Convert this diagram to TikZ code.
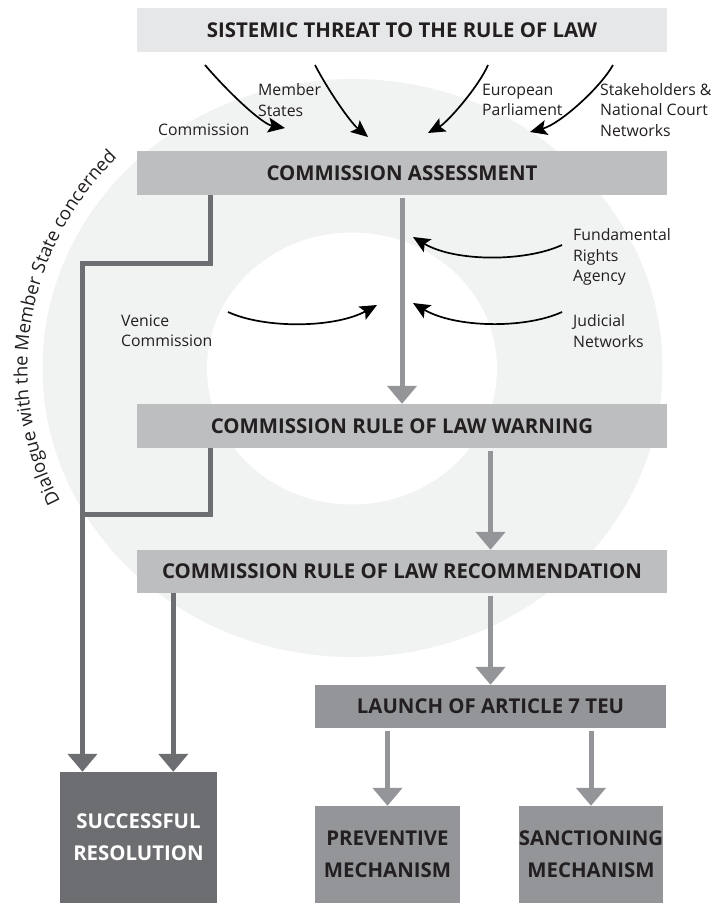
\documentclass[tikz,border=0pt]{standalone}
\usepackage{fontspec}
\setmainfont{Open Sans}
\usepackage{tikz}
\usetikzlibrary{arrows.meta, calc, decorations.text}

\definecolor{ringgray}{HTML}{F1F2F2}
\definecolor{palegray}{HTML}{E6E7E8}
\definecolor{stagegray}{HTML}{BCBEC0}
\definecolor{midgray}{HTML}{939598}
\definecolor{deepgray}{HTML}{6D6E71}
\definecolor{inkgray}{HTML}{231F20}

\tikzset{
  every picture/.style={x=1pt, y=-1pt},
  box/.style={rectangle, inner sep=0pt, text=inkgray, align=center,
    font=\fontsize{20.4}{32}\selectfont\bfseries},
  stage/.style={box, fill=stagegray, minimum width=530pt, minimum height=44pt},
  actorname/.style={inner sep=0pt, anchor=west, align=left, text=inkgray,
    font=\fontsize{15.8}{20.5}\selectfont},
  actor/.style={-{Stealth[length=17pt, width=15pt, inset=3.5pt]}, line width=1.7pt, black},
  flow/.style={-{Triangle[length=18pt, width=29pt]}, line width=5pt, midgray, shorten <=2.5pt},
  dialog/.style={line width=5pt, deepgray},
}

\begin{document}
\begin{tikzpicture}
        \fill[white] (0,0) rectangle (711,903);
        \useasboundingbox (0,0) rectangle (711,903);

        % background rings
        \fill[ringgray] (352.5,368) ellipse [x radius=310, y radius=289];
        \fill[white] (352,368.5) ellipse [x radius=145, y radius=136];

        \path[decorate, decoration={text along path, text align=left, text color=inkgray,
            text={|\fontsize{18.5}{20}\selectfont|Dialogue with the Member State concerned}}]
          (352.5,368) ++(154:325 and 305) arc [start angle=154, end angle=232, x radius=325, y radius=305];

        % stages
        \node[stage, fill=palegray] (threat) at (402, 30) {SISTEMIC THREAT TO THE RULE OF LAW};
        \node[stage] (assess) at (402, 173) {COMMISSION ASSESSMENT};
        \node[stage] (warning) at (402, 426) {COMMISSION RULE OF LAW WARNING};
        \node[stage, minimum height=43pt] (recommend) at (402, 571.5) {COMMISSION RULE OF LAW RECOMMENDATION};
        \node[box, fill=midgray, minimum width=351pt, minimum height=43pt] (launch) at (490.5, 706.5) {LAUNCH OF ARTICLE 7 TEU};
        \node[box, fill=deepgray, text=white, minimum width=157pt, minimum height=131pt] (success) at (138.5, 837.5) {SUCCESSFUL\\RESOLUTION};
        \node[box, fill=midgray, minimum width=145pt, minimum height=97pt] (prevent) at (387.5, 854.5) {PREVENTIVE\\MECHANISM};
        \node[box, fill=midgray, minimum width=136pt, minimum height=97pt] (sanction) at (591, 854.5) {SANCTIONING\\MECHANISM};

        % actors
        \node[actorname] (commlab) at (158, 130) {Commission};
        \node[actorname] (memberlab) at (258, 100) {Member\\States};
        \node[actorname] (parllab) at (482, 100) {European\\Parliament};
        \node[actorname] (stakelab) at (600, 110) {Stakeholders \&\\National Court\\Networks};
        \node[actorname] (fralab) at (573, 257) {Fundamental\\Rights\\Agency};
        \node[actorname] (judlab) at (573, 331) {Judicial\\Networks};
        \node[actorname] (venlab) at (121, 331) {Venice\\Commission};

        \coordinate (comms) at (205, 65);   \coordinate (comme) at (285, 128);
        \coordinate (membs) at (315, 65);   \coordinate (membe) at (368, 137);
        \coordinate (parls) at (488, 65);   \coordinate (parle) at (428, 133);
        \coordinate (stakes) at (613, 65);  \coordinate (stakee) at (530, 132);
        \coordinate (fras) at (562, 245);   \coordinate (frae) at (413, 237);
        \coordinate (juds) at (562, 312);   \coordinate (jude) at (413, 303);
        \coordinate (vens) at (228, 312);   \coordinate (vene) at (377, 305);

        \draw[actor] (comms) .. controls (228, 92) and (262, 124) .. (comme);
        \draw[actor] (membs) .. controls (328, 90) and (350, 122) .. (membe);
        \draw[actor] (parls) .. controls (479, 86) and (448, 122) .. (parle);
        \draw[actor] (stakes) .. controls (600, 88) and (560, 124) .. (stakee);
        \draw[actor] (fras) .. controls (525, 262) and (455, 262) .. (frae);
        \draw[actor] (juds) .. controls (525, 329) and (455, 328) .. (jude);
        \draw[actor] (vens) .. controls (265, 329) and (335, 328) .. (vene);

        % procedure
        \foreach \from/\to in {
          assess.south/warning.north,
          warning.south -| launch.north/recommend.north -| launch.north,
          recommend.south -| launch.north/launch.north,
          launch.south -| prevent.north/prevent.north,
          launch.south -| sanction.north/sanction.north}
        \draw[flow] (\from) -- (\to);

        % dialogue
        \coordinate (bend) at (82.5, 263);
        \coordinate (assessdrop) at ($(assess.south west)+(74,0)$);
        \coordinate (warndrop) at ($(warning.south west)+(74,0)$);
        \coordinate (recdrop) at ($(recommend.south west)+(36.5,0)$);
        \draw[dialog, -{Triangle[length=18pt, width=29pt]}] (assessdrop) |- (bend) -- (bend |- success.north);
        \draw[dialog] (warndrop) |- (bend |- 0,514);
        \draw[dialog, -{Triangle[length=18pt, width=29pt]}] (recdrop) -- (recdrop |- success.north);
      \end{tikzpicture}
\end{document}
